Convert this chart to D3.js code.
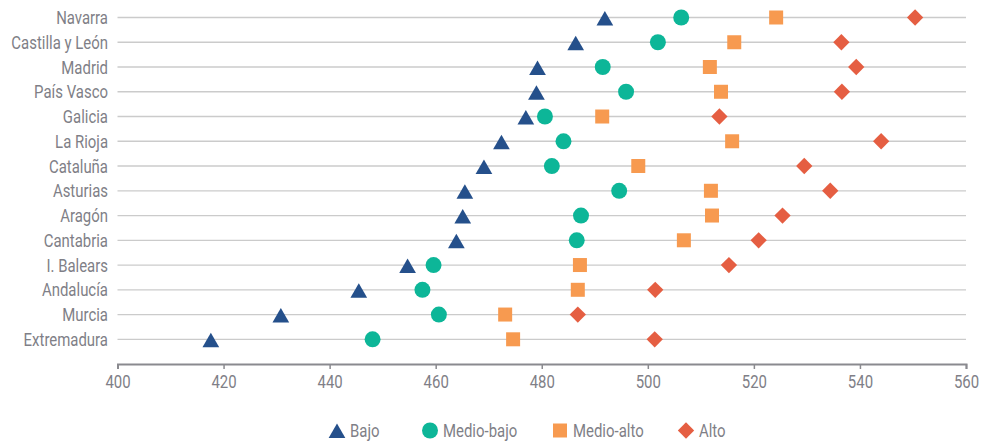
<!DOCTYPE html>
<html><head><meta charset="utf-8">
<script src="https://cdn.jsdelivr.net/npm/d3@7"></script>
<style>
body{margin:0;background:#fff;}
text{font-family:Roboto,sans-serif;fill:#7f7f87;}
</style></head><body>
<svg id="c" width="981" height="444"></svg>
<script>
const regions = ["Navarra","Castilla y León","Madrid","País Vasco","Galicia","La Rioja","Cataluña","Asturias","Aragón","Cantabria","I. Balears","Andalucía","Murcia","Extremadura"];
const bajo      = [491.9,486.4,479.2,479.0,477.0,472.4,469.1,465.5,465.1,463.9,454.7,445.5,430.8,417.6];
const medioBajo = [506.3,501.9,491.5,495.9,480.6,484.1,481.9,494.6,487.4,486.6,459.6,457.5,460.6,448.1];
const medioAlto = [524.2,516.3,511.7,513.8,491.4,515.9,498.2,511.9,512.1,506.8,487.2,486.8,473.1,474.6];
const alto      = [550.4,536.5,539.3,536.6,513.5,544.0,529.5,534.4,525.4,520.9,515.3,501.4,486.8,501.3];
const seriesNames = ["Bajo","Medio-bajo","Medio-alto","Alto"];
const xTicks = [400,420,440,460,480,500,520,540,560];

const SX = 0.83, FS = 18;
const series = [
  {name:seriesNames[0], values:bajo, color:"#25508b", sym:d3.symbolTriangle, size:121, rot:0, dy:3.2},
  {name:seriesNames[1], values:medioBajo, color:"#0db698", sym:d3.symbolCircle, size:200, rot:0, dy:0},
  {name:seriesNames[2], values:medioAlto, color:"#f79a50", sym:d3.symbolSquare, size:196, rot:0, dy:0},
  {name:seriesNames[3], values:alto, color:"#e55e42", sym:d3.symbolSquare, size:133, rot:45, dy:0}
];

const svg = d3.select("#c");
const x = d3.scaleLinear().domain([400,560]).range([117.5,966]);
const y = d3.scalePoint().domain(regions).range([17.5,339.3]);

svg.append("g").selectAll("line").data(regions).join("line")
  .attr("x1",x(400)).attr("x2",x(560))
  .attr("y1",d=>y(d)).attr("y2",d=>y(d))
  .attr("stroke","#cbcbcb").attr("stroke-width",1.3);

svg.append("g").selectAll("text").data(regions).join("text")
  .attr("transform",d=>`translate(108,${y(d)}) scale(${SX},1)`)
  .attr("dy","0.36em")
  .attr("text-anchor","end").attr("font-size",FS).text(d=>d);

const xAxis = svg.append("g").attr("transform","translate(0,364)")
  .call(d3.axisBottom(x).tickValues(xTicks).tickSize(5).tickPadding(4));
xAxis.select(".domain").attr("stroke","#8a8a8f").attr("stroke-width",2);
xAxis.selectAll(".tick line").attr("stroke","#8a8a8f").attr("stroke-width",1.5);
xAxis.selectAll(".tick text").attr("font-size",FS).attr("fill","#7f7f87")
  .attr("y",18).attr("dy","0.36em")
  .attr("transform",`scale(${SX},1)`)
  .style("font-family","Roboto,sans-serif");

series.forEach(s=>{
  svg.append("g").selectAll("path").data(regions).join("path")
    .attr("transform",(d,i)=>`translate(${x(s.values[i])},${y(d)+s.dy}) rotate(${s.rot})`)
    .attr("d",d3.symbol().type(s.sym).size(s.size))
    .attr("fill",s.color);
});

const legendX = [337,430,560,686];
const lg = svg.append("g").attr("transform","translate(0,430.5)");
series.forEach((s,i)=>{
  lg.append("path").attr("transform",`translate(${legendX[i]},${s.dy*0.8}) rotate(${s.rot})`)
    .attr("d",d3.symbol().type(s.sym).size(s.size)).attr("fill",s.color);
  lg.append("text").attr("transform",`translate(${legendX[i]+13},0) scale(${SX},1)`)
    .attr("dy","0.36em")
    .attr("font-size",FS).text(s.name);
});
</script></body></html>
